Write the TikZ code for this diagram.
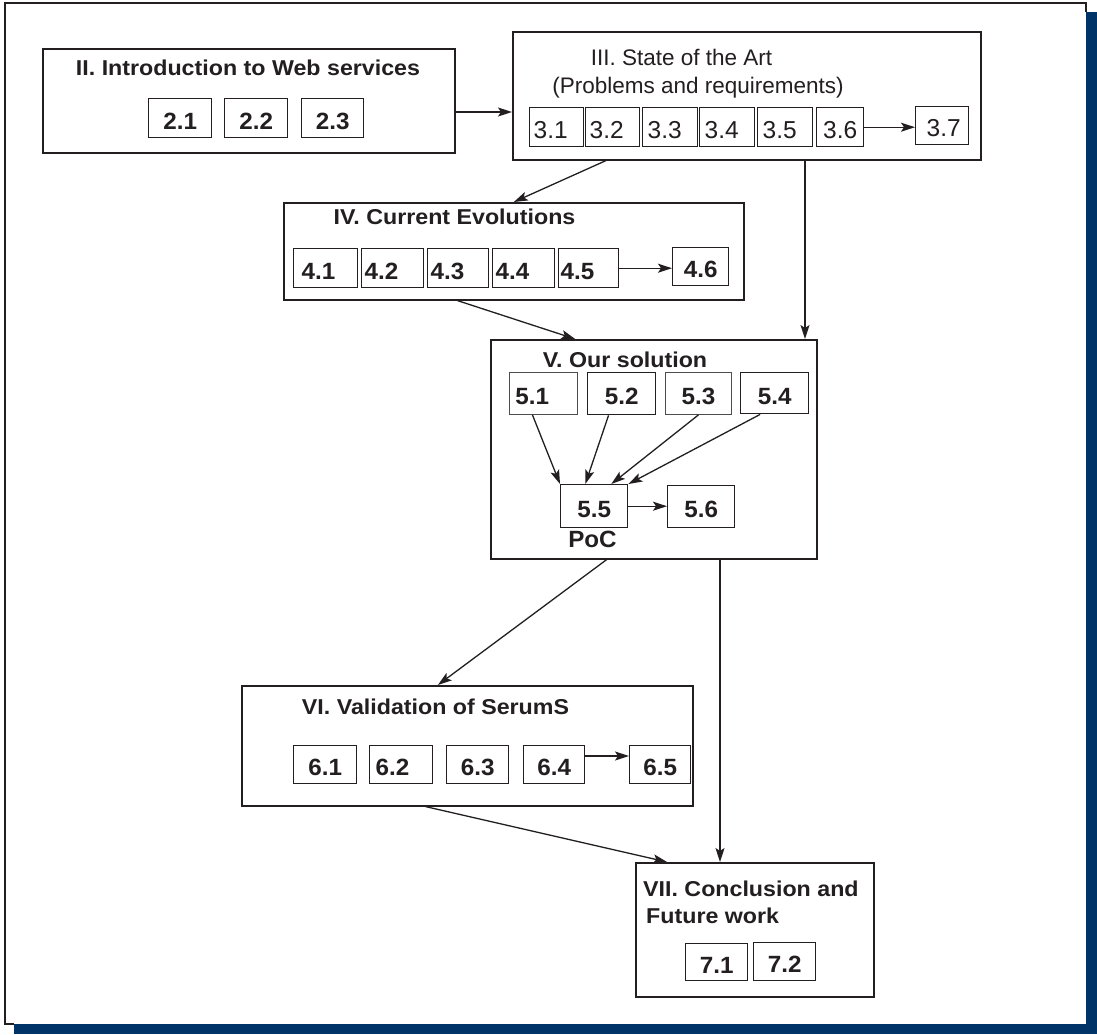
\documentclass[tikz,border=0pt]{standalone}
\usepackage{fontspec}
\setmainfont{Liberation Sans}
\newfontfamily\titlefont{Liberation Sans}[FakeStretch=1.08]
\newfontfamily\numfont{Liberation Sans}[FakeStretch=1.03]
\usetikzlibrary{arrows.meta,calc}
\definecolor{ink}{RGB}{35,31,32}
\definecolor{frameblue}{RGB}{0,52,104}

\begin{document}
\begin{tikzpicture}[x=1pt,y=-1pt,
  sec/.style={draw=ink, line width=1.6pt, anchor=north west, inner sep=0pt},
  sub/.style={draw=ink, line width=1.4pt, anchor=north west, inner sep=0pt, text=ink,
    text height=22.5pt, text depth=0pt, font=\numfont\bfseries\fontsize{23.5}{27}\selectfont},
  subR/.style={sub, font=\fontsize{24.5}{28}\selectfont},
  lft/.style={align=left, inner xsep=#1},
  rgt/.style={align=right, inner xsep=#1},
  thin/.style={line width=0.9pt, draw=ink!80},
  ttl/.style={text=ink, inner sep=0pt, font=\titlefont\bfseries\fontsize{21.5}{26}\selectfont},
  ttlR/.style={text=ink, inner sep=0pt, font=\fontsize{22.5}{27}\selectfont},
  arr/.style={draw=ink, line width=1.3pt, -{Stealth[length=14pt,width=9pt,inset=3pt]}},
]
\useasboundingbox (0,0) rectangle (1097,1034);

% page frame with its dark blue drop shadow
\fill[frameblue] (14,12) rectangle (1097,1034);
\fill[white] (5,3) rectangle (1086,1024);
\draw[ink, line width=2pt] (14,1024) -- (5,1024) -- (5,3) -- (1086,3) -- (1086,12);

% II. Introduction to Web services
\node[sec, minimum width=412pt, minimum height=104pt] (II) at (42,48) {};
\node[ttl, anchor=base] (tII) at (248,75) {II. Introduction to Web services};
\node[sub, minimum width=63pt, minimum height=39pt] (s21) at (148,98) {2.1};
\node[sub, minimum width=63pt, minimum height=39pt] (s22) at (224,98) {2.2};
\node[sub, minimum width=62pt, minimum height=39pt] (s23) at (301,98) {2.3};

% III. State of the Art
\node[sec, minimum width=468pt, minimum height=128pt] (III) at (512,31) {};
\node[ttlR, anchor=base] (tIIIa) at (681.5,65) {III. State of the Art};
\node[ttlR, anchor=base] (tIIIb) at (698,93) {(Problems and requirements)};
\node[subR, lft=4pt, text width=46pt, minimum height=39pt] (s31) at (529,107) {3.1};
\node[subR, lft=4pt, text width=46pt, minimum height=39pt] (s32) at (585,107) {3.2};
\node[subR, lft=5pt, text width=45pt, minimum height=39pt] (s33) at (642,107) {3.3};
\node[subR, lft=5pt, text width=45pt, minimum height=39pt] (s34) at (699,107) {3.4};
\node[subR, lft=5pt, text width=45pt, minimum height=39pt] (s35) at (757,107) {3.5};
\node[subR, minimum width=47pt, minimum height=39pt] (s36) at (816,107) {3.6};
\node[subR, rgt=8pt, text width=37pt, minimum height=38pt] (s37) at (915,106) {3.7};

% IV. Current Evolutions
\node[sec, minimum width=460pt, minimum height=97pt] (IV) at (283,202) {};
\node[ttl, anchor=base] (tIV) at (454.5,224) {IV. Current Evolutions};
\node[sub, lft=8pt, text width=48pt, minimum height=39pt] (s41) at (293,248) {4.1};
\node[sub, lft=3pt, text width=56pt, minimum height=39pt] (s42) at (361,248) {4.2};
\node[sub, lft=3pt, text width=55pt, minimum height=39pt] (s43) at (427,248) {4.3};
\node[sub, lft=3pt, text width=56pt, minimum height=39pt] (s44) at (492,248) {4.4};
\node[sub, lft=2pt, text width=56pt, minimum height=39pt] (s45) at (558,248) {4.5};
\node[sub, minimum width=56pt, minimum height=38pt] (s46) at (672,247) {4.6};

% V. Our solution
\node[sec, minimum width=326pt, minimum height=219pt] (V) at (490,339) {};
\node[ttl, anchor=base] (tV) at (625,367) {V. Our solution};
\node[sub, thin, lft=6pt, text width=56pt, minimum height=42pt] (s51) at (509,372) {5.1};
\node[sub, minimum width=68pt, minimum height=42pt] (s52) at (587,372) {5.2};
\node[sub, thin, minimum width=66pt, minimum height=42pt] (s53) at (665,372) {5.3};
\node[sub, minimum width=68pt, minimum height=41pt] (s54) at (740,372) {5.4};
\node[sub, minimum width=67pt, minimum height=43pt] (s55) at (560,484) {5.5};
\node[sub, minimum width=67pt, minimum height=42pt] (s56) at (667,485) {5.6};
\node[text=ink, inner sep=0pt, anchor=base, font=\numfont\bfseries\fontsize{23.5}{27}\selectfont] (poc) at (592.5,547) {PoC};

% VI. Validation of SerumS
\node[sec, minimum width=451pt, minimum height=120pt] (VI) at (241,685) {};
\node[ttl, anchor=base] (tVI) at (435.5,714) {VI. Validation of SerumS};
\node[sub, minimum width=63pt, minimum height=38pt] (s61) at (293,745) {6.1};
\node[sub, lft=6pt, text width=51pt, minimum height=38pt] (s62) at (369,745) {6.2};
\node[sub, minimum width=62pt, minimum height=38pt] (s63) at (446,745) {6.3};
\node[sub, minimum width=61pt, minimum height=38pt] (s64) at (523,745) {6.4};
\node[sub, minimum width=61pt, minimum height=38pt] (s65) at (629,745) {6.5};

% VII. Conclusion and Future work
\node[sec, minimum width=238pt, minimum height=134pt] (VII) at (635,862) {};
\node[ttl, anchor=base west] (tVIIa) at (643,896) {VII. Conclusion and};
\node[ttl, anchor=base west] (tVIIb) at (646,923) {Future work};
\node[sub, minimum width=62pt, minimum height=37pt] (s71) at (685,943) {7.1};
\node[sub, minimum width=62pt, minimum height=38pt] (s72) at (753,942) {7.2};

% connectors
\coordinate (yA) at (0,112);
\coordinate (xB) at (805,0);
\coordinate (xC) at (720,0);
\coordinate (yF) at (0,756);
\draw[arr] (II.east |- yA) -- (III.west |- yA);
\draw[arr] (s36.east) -- (s37.west |- s36.east);
\draw[arr] ($(III.south west)!0.2!(III.south east)$) -- (IV.north);
\draw[arr] (III.south -| xB) -- (V.north -| xB);
\draw[arr] (s45.east) -- (s46.west |- s45.east);
\draw[arr] ($(IV.south west)!0.378!(IV.south east)$) -- ($(V.north west)!0.26!(V.north east)$);
\draw[arr] ($(s51.south west)!0.34!(s51.south east)$) -- (s55.north west);
\draw[arr] ($(s52.south west)!0.31!(s52.south east)$) -- ($(s55.north west)!0.37!(s55.north east)$);
\draw[arr] (s53.south) -- ($(s55.north west)!0.75!(s55.north east)$);
\draw[arr] ($(s54.south west)!0.29!(s54.south east)$) -- (s55.north east);
\draw[arr] (s55.east) -- (s56.west |- s55.east);
\draw[arr] ($(V.south west)!0.356!(V.south east)$) -- ($(VI.north west)!0.435!(VI.north east)$);
\draw[arr] (V.south -| xC) -- (VII.north -| xC);
\draw[arr] (s64.east |- yF) -- (s65.west |- yF);
\draw[arr] ($(VI.south west)!0.408!(VI.south east)$) -- ($(VII.north west)!0.134!(VII.north east)$);
\end{tikzpicture}
\end{document}
